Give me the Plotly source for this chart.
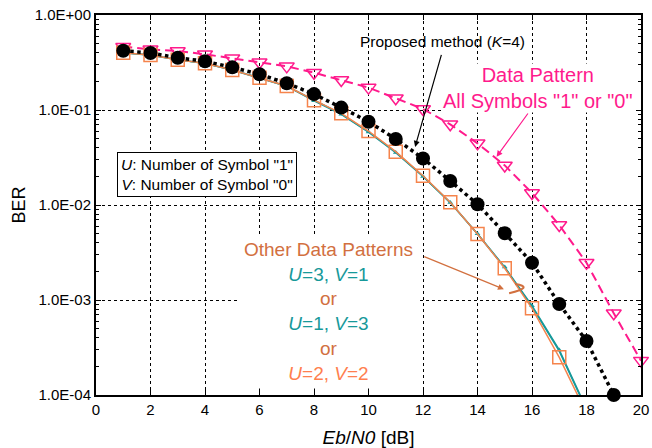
import plotly.graph_objects as go

# ---------------- data ----------------
proposed_x = list(range(1, 20))
proposed_ber = [0.421, 0.398, 0.355, 0.326, 0.281, 0.238, 0.191, 0.147, 0.106, 0.0753,
                0.0495, 0.0309, 0.0179, 0.0102, 0.00504, 0.00247, 0.000908, 0.00037, 0.0001]

all_same_x = list(range(1, 21))
all_same_ber = [0.464, 0.435, 0.418, 0.386, 0.350, 0.318, 0.288, 0.247, 0.207, 0.172,
                0.133, 0.1025, 0.0707, 0.0446, 0.0261, 0.0134, 0.00615, 0.00247, 0.000724, 0.00023]

u2v2_x = list(range(1, 19))
u2v2_ber = [0.401, 0.379, 0.338, 0.310, 0.264, 0.219, 0.179, 0.127, 0.0923, 0.0601,
            0.0364, 0.0203, 0.01067, 0.00495, 0.00216, 0.000818, 0.000249, 6.4e-5]

u3v1_x = list(range(1, 19))
u3v1_ber = [0.400, 0.378, 0.337, 0.309, 0.263, 0.218, 0.178, 0.125, 0.0900, 0.0585,
            0.0356, 0.0200, 0.0106, 0.00497, 0.00222, 0.00087, 0.000298, 7.2e-5]

u1v3_x = list(range(1, 19))
u1v3_ber = [0.401, 0.379, 0.338, 0.310, 0.264, 0.219, 0.178, 0.126, 0.0910, 0.0590,
            0.0360, 0.0201, 0.0106, 0.00495, 0.00219, 0.00085, 0.000290, 7.0e-5]

x_ticks = list(range(0, 21, 2))
y_ticks = [1e-4, 1e-3, 1e-2, 1e-1, 1.0]
y_ticktext = ["1.0E-04", "1.0E-03", "1.0E-02", "1.0E-01", "1.0E+00"]
y_minor = [m * 10.0 ** e for e in range(-4, 0) for m in range(2, 10)]

MAGENTA = "#ff1a8c"
ORANGE = "#f5844c"
TEAL = "#17999a"
BROWN = "#d2703f"
CORAL = "#ff7f4f"
FONT = "Liberation Sans, Arial, Helvetica, sans-serif"

fig = go.Figure()

fig.add_trace(go.Scatter(
    x=all_same_x, y=all_same_ber, mode="lines+markers",
    line=dict(color=MAGENTA, width=2, dash="9px,5px"),
    marker=dict(symbol="triangle-down-open", size=13, color=MAGENTA, line=dict(width=1.5)),
    cliponaxis=False, showlegend=False))

fig.add_trace(go.Scatter(
    x=u1v3_x, y=u1v3_ber, mode="lines",
    line=dict(color=TEAL, width=1.5), showlegend=False))

fig.add_trace(go.Scatter(
    x=u3v1_x, y=u3v1_ber, mode="lines+markers",
    line=dict(color=TEAL, width=1.5),
    marker=dict(symbol="triangle-up", size=5, color=TEAL), showlegend=False))

fig.add_trace(go.Scatter(
    x=u2v2_x, y=u2v2_ber, mode="lines+markers",
    line=dict(color=ORANGE, width=1.5),
    marker=dict(symbol="square-open", size=13, color=ORANGE, line=dict(width=1.5)),
    showlegend=False))

fig.add_trace(go.Scatter(
    x=proposed_x, y=proposed_ber, mode="lines+markers",
    line=dict(color="black", width=3.5, dash="dot"),
    marker=dict(symbol="circle", size=14, color="black"),
    cliponaxis=False, showlegend=False))

axis_common = dict(
    showline=True, linecolor="black", linewidth=2, mirror="allticks",
    ticks="inside", ticklen=5, tickcolor="black", tickwidth=1,
    showgrid=True, gridcolor="black", gridwidth=1, griddash="3px,3px",
    zeroline=False, automargin=False,
    tickfont=dict(family=FONT, size=15, color="black"),
)

fig.update_xaxes(
    range=[0, 20], tickmode="array", tickvals=x_ticks,
    title=dict(text="<i>Eb</i>/<i>N0</i> [dB]", font=dict(family=FONT, size=19, color="black"), standoff=16),
    **axis_common)

fig.update_yaxes(
    type="log", range=[-4, 0], tickmode="array", tickvals=y_ticks, ticktext=y_ticktext,
    minor=dict(ticks="inside", ticklen=3, tickcolor="black", tickmode="array", tickvals=y_minor, showgrid=False),
    title=dict(text="BER", font=dict(family=FONT, size=18, color="black"), standoff=4),
    **axis_common)

annotations = [
    dict(x=12.73, y=-0.284, xref="x", yref="y", text="Proposed method (<i>K</i>=4)",
         showarrow=False, font=dict(family=FONT, size=15.5, color="black")),
    dict(x=11.71, y=-1.389, xref="x", yref="y", ax=12.69, ay=-0.403, axref="x", ayref="y",
         text="", showarrow=True, arrowhead=2, arrowsize=1, arrowwidth=1.2, arrowcolor="black"),
    dict(x=16.22, y=-0.772, xref="x", yref="y",
         text="Data Pattern<br>All Symbols \"1\" or \"0\"",
         showarrow=False, bgcolor="white", borderpad=0,
         font=dict(family=FONT, size=20, color=MAGENTA)),
    dict(x=14.70, y=-1.492, xref="x", yref="y", ax=15.89, ay=-1.021, axref="x", ayref="y",
         text="", showarrow=True, arrowhead=2, arrowsize=1, arrowwidth=1.2, arrowcolor=MAGENTA),
    dict(x=4.06, y=-1.684, xref="x", yref="y",
         text="<i>U</i>: Number of Symbol \"1\"<br><i>V</i>: Number of Symbol \"0\"",
         showarrow=False, bgcolor="white", bordercolor="black", borderwidth=1, borderpad=3,
         font=dict(family=FONT, size=15.5, color="black")),
    dict(x=8.55, y=-3.12, xref="x", yref="y",
         text=(f'<span style="color:{BROWN}">Other Data Patterns</span><br>'
               f'<span style="color:{TEAL}"><i>U</i>=3, <i>V</i>=1</span><br>'
               f'<span style="color:{BROWN}">or</span><br>'
               f'<span style="color:{TEAL}"><i>U</i>=1, <i>V</i>=3</span><br>'
               f'<span style="color:{BROWN}">or</span><br>'
               f'<span style="color:{CORAL}"><i>U</i>=2, <i>V</i>=2</span>'),
         showarrow=False, bgcolor="white", borderpad=4,
         font=dict(family=FONT, size=19, color=BROWN)),
    dict(x=14.97, y=-2.887, xref="x", yref="y", ax=11.99, ay=-2.537, axref="x", ayref="y",
         text="", showarrow=True, arrowhead=2, arrowsize=1, arrowwidth=1.2, arrowcolor=BROWN),
]

fig.update_layout(
    width=652, height=448,
    margin=dict(l=96, r=11, t=15, b=53),
    paper_bgcolor="white", plot_bgcolor="white",
    annotations=annotations,
    shapes=[dict(type="path", xref="paper", yref="paper",
                 path="M 0.769,0.292 Q 0.805,0.284 0.758,0.268",
                 line=dict(color=BROWN, width=2))],
)

fig.write_html("out.html")
